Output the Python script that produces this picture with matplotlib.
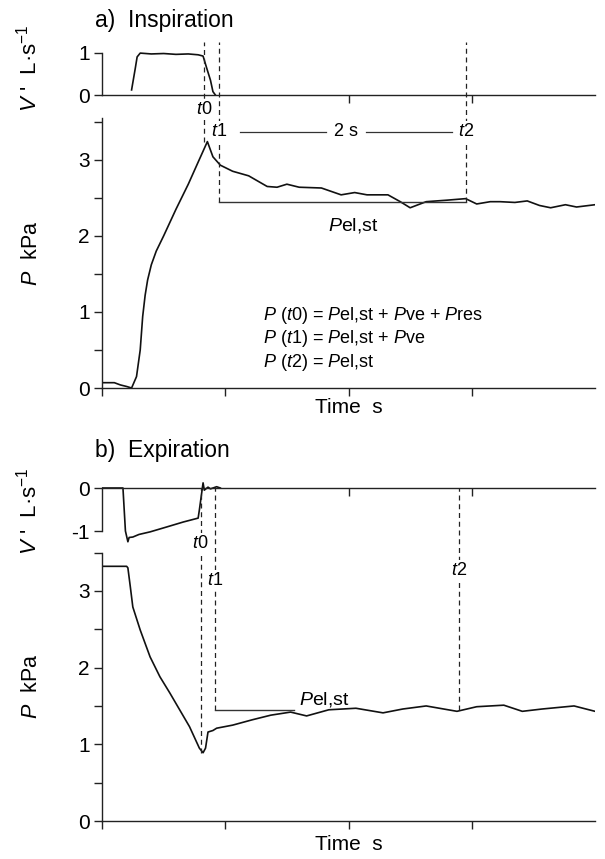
import matplotlib
matplotlib.use("Agg")
import matplotlib.pyplot as plt

plt.rcParams['font.family'] = ['Liberation Sans', 'DejaVu Sans']
plt.rcParams['mathtext.fontset'] = 'custom'
plt.rcParams['mathtext.rm'] = 'Liberation Sans'
plt.rcParams['mathtext.it'] = 'Liberation Sans:italic'

# ---- data (time in s) ----
flow_a_t = [0.24, 0.27, 0.285, 0.31, 0.40, 0.50, 0.60, 0.70, 0.78, 0.82, 0.85, 0.88, 0.90, 0.92]
flow_a_v = [0.12, 0.63, 0.90, 0.99, 0.97, 0.98, 0.96, 0.97, 0.95, 0.92, 0.63, 0.35, 0.08, 0.0]

press_a_t = [0, 0.10, 0.15, 0.20, 0.24, 0.28, 0.31, 0.33, 0.35, 0.37, 0.40, 0.44, 0.50,
             0.60, 0.70, 0.78, 0.855, 0.90, 0.96, 1.06, 1.19, 1.34, 1.42, 1.50, 1.60,
             1.78, 1.94, 2.05, 2.15, 2.32, 2.42, 2.50, 2.63, 2.80, 2.95, 3.04, 3.15,
             3.23, 3.35, 3.45, 3.55, 3.64, 3.70, 3.76, 3.85, 4.0]
press_a_v = [0.07, 0.07, 0.04, 0.02, 0.0, 0.15, 0.5, 0.94, 1.22, 1.42, 1.62, 1.80, 2.0,
             2.35, 2.68, 2.97, 3.24, 3.04, 2.93, 2.85, 2.79, 2.65, 2.64, 2.68, 2.64,
             2.63, 2.54, 2.57, 2.54, 2.54, 2.45, 2.37, 2.45, 2.47, 2.49, 2.42, 2.45,
             2.45, 2.44, 2.46, 2.40, 2.37, 2.39, 2.41, 2.38, 2.41]

flow_b_t = [0, 0.17, 0.18, 0.19, 0.21, 0.22, 0.25, 0.30, 0.39, 0.52, 0.66, 0.78, 0.79,
            0.81, 0.82, 0.83, 0.86, 0.88, 0.90, 0.93, 0.96]
flow_b_v = [0, 0, -0.5, -1.0, -1.25, -1.15, -1.14, -1.08, -1.02, -0.91, -0.79, -0.70, -0.51,
            -0.09, 0.12, -0.05, 0.02, -0.02, 0.0, 0.03, 0.0]

press_b_t = [0, 0.20, 0.21, 0.23, 0.25, 0.31, 0.39, 0.47, 0.55, 0.63, 0.71, 0.79, 0.82,
             0.84, 0.86, 0.90, 0.93, 1.06, 1.22, 1.37, 1.53, 1.66, 1.84, 2.06, 2.28,
             2.44, 2.63, 2.88, 3.04, 3.26, 3.41, 3.57, 3.83, 4.0]
press_b_v = [3.32, 3.32, 3.30, 3.05, 2.79, 2.49, 2.14, 1.88, 1.67, 1.45, 1.23, 0.95, 0.89,
             0.95, 1.16, 1.18, 1.21, 1.25, 1.32, 1.38, 1.42, 1.37, 1.45, 1.47, 1.41,
             1.46, 1.50, 1.43, 1.49, 1.51, 1.43, 1.46, 1.50, 1.43]

# time markers and static elastic pressure
t_a = [0.83, 0.95, 2.95]
pel_a = 2.45
t_b = [0.80, 0.92, 2.90]
pel_b = 1.45
pel_b_end = 1.56

eq_lines = [r"$P$ ($t$0) = $P$el,st + $P$ve + $P$res",
            r"$P$ ($t$1) = $P$el,st + $P$ve",
            r"$P$ ($t$2) = $P$el,st"]

fig = plt.figure(figsize=(6.05, 8.59), dpi=100)
L, W = 0.1686, 0.8149
ax_fa = fig.add_axes([L, 0.8894, W, 0.0616])
ax_pa = fig.add_axes([L, 0.5483, W, 0.3143])
ax_fb = fig.add_axes([L, 0.3668, W, 0.0751])
ax_pb = fig.add_axes([L, 0.0442, W, 0.3126])

for ax in (ax_fa, ax_pa, ax_fb, ax_pb):
    ax.set_facecolor('none')
    ax.spines['top'].set_visible(False)
    ax.spines['right'].set_visible(False)
    for s in ('left', 'bottom'):
        ax.spines[s].set_linewidth(1.0)
        ax.spines[s].set_color('#222222')
    ax.set_xlim(0, 4)
    ax.tick_params(direction='out', length=6, width=1, labelsize=15, color='#222222', pad=3)
    ax.set_xticklabels([])

lw = 1.2
col = '#111111'

# flow panels
ax_fa.plot(flow_a_t, flow_a_v, color=col, lw=lw)
ax_fa.set_ylim(0, 1.25)
ax_fa.spines['left'].set_bounds(0, 1)
ax_fa.set_yticks([0, 1], ['0', '1'])
ax_fa.set_xticks([2, 3], ['', ''])

ax_fb.plot(flow_b_t, flow_b_v, color=col, lw=lw)
ax_fb.set_ylim(-1.3, 0.2)
ax_fb.spines['bottom'].set_position(('data', 0))
ax_fb.spines['left'].set_bounds(-1, 0)
ax_fb.set_yticks([-1, 0], ['-1', '0'])
ax_fb.set_xticks([2, 3], ['', ''])

# pressure panels
pticks = [0, 0.5, 1, 1.5, 2, 2.5, 3, 3.5]
plabels = ['0', '', '1', '', '2', '', '3', '']
for ax, tt, vv, top in ((ax_pa, press_a_t, press_a_v, 3.55), (ax_pb, press_b_t, press_b_v, 3.5)):
    ax.plot(tt, vv, color=col, lw=lw)
    ax.set_ylim(0, top)
    ax.set_yticks(pticks, plabels)
    ax.set_xticks([0, 1, 2, 3], ['', '', '', ''])

for ax in (ax_fa, ax_fb):
    ax.set_ylabel(r"$V$ '  L·s$^{-1}$", fontsize=16)
    ax.yaxis.set_label_coords(-0.122, 0.5)
for ax in (ax_pa, ax_pb):
    ax.set_ylabel(r"$P$  kPa", fontsize=15.5)
    ax.yaxis.set_label_coords(-0.122, 0.5)

ax_pa.text(0.5, -0.074, "Time  s", transform=ax_pa.transAxes, ha='center', va='center', fontsize=15)
ax_pb.text(0.5, -0.089, "Time  s", transform=ax_pb.transAxes, ha='center', va='center', fontsize=15)

fig.text(0.157, 1 - 20 / 859, "a)  Inspiration", fontsize=16.5, va='center', ha='left')
fig.text(0.157, 1 - 450 / 859, "b)  Expiration", fontsize=16.5, va='center', ha='left')

dash = dict(color='#222222', lw=0.9, dashes=(4, 3), clip_on=False)
lab = dict(ha='center', va='center', fontsize=13,
           bbox=dict(boxstyle='square,pad=0.1', fc='white', ec='none'))

# panel a markers (top of dashes = top of the flow axes, expressed in pressure units)
top_a = 4.55
ax_pa.plot([t_a[0], t_a[0]], [max(press_a_v), top_a], **dash)
ax_pa.plot([t_a[1], t_a[1]], [pel_a, top_a], **dash)
ax_pa.plot([t_a[2], t_a[2]], [pel_a, top_a], **dash)
ax_pa.text(t_a[0], 3.66, r"$t$0", **lab)
ax_pa.text(t_a[1], 3.37, r"$t$1", **lab)
ax_pa.text(t_a[2], 3.37, r"$t$2", **lab)
ax_pa.plot([1.12, 1.82], [3.37, 3.37], color='#333333', lw=0.9)
ax_pa.plot([2.14, 2.84], [3.37, 3.37], color='#333333', lw=0.9)
ax_pa.text(1.98, 3.37, "2 s", ha='center', va='center', fontsize=13)
ax_pa.plot([t_a[1], t_a[2]], [pel_a, pel_a], color='#333333', lw=1.0)
ax_pa.text(1.83, 2.14, r"$P$el,st", ha='left', va='center', fontsize=14)
for i, s in enumerate(eq_lines):
    ax_pa.text(1.31, 0.95 - 0.305 * i, s, ha='left', va='center', fontsize=13)

# panel b markers
top_b = 4.34
ax_pb.plot([t_b[0], t_b[0]], [min(press_b_v), top_b], **dash)
ax_pb.plot([t_b[1], t_b[1]], [pel_b, top_b], **dash)
ax_pb.plot([t_b[2], t_b[2]], [pel_b, top_b], **dash)
ax_pb.text(t_b[0], 3.62, r"$t$0", **lab)
ax_pb.text(t_b[1], 3.14, r"$t$1", **lab)
ax_pb.text(t_b[2], 3.27, r"$t$2", **lab)
ax_pb.plot([t_b[1], pel_b_end], [pel_b, pel_b], color='#333333', lw=1.0)
ax_pb.text(1.6, 1.58, r"$P$el,st", ha='left', va='center', fontsize=14)

fig.savefig("out.png", dpi=100)
